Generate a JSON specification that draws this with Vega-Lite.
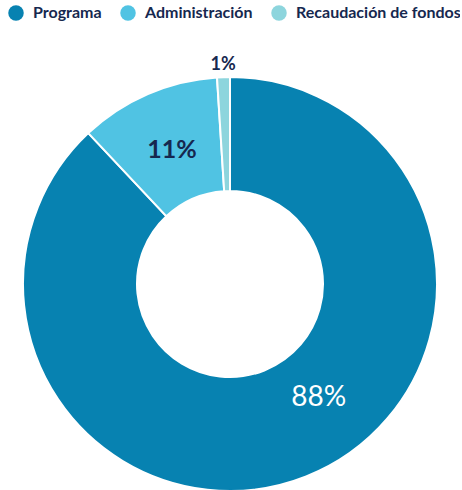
{
  "$schema": "https://vega.github.io/schema/vega-lite/v6.json",
  "width": 460,
  "height": 568,
  "autosize": "none",
  "padding": 0,
  "background": "white",
  "config": {"view": {"stroke": null}, "font": "Lato"},
  "data": {"values": [
    {"cat": "Programa", "value": 88, "order": 1, "label": "88%"},
    {"cat": "Administración", "value": 11, "order": 2, "label": "11%"},
    {"cat": "Recaudación de fondos", "value": 1, "order": 3, "label": "1%"}
  ]},
  "layer": [
    {
      "mark": {"type": "arc", "innerRadius": 93, "outerRadius": 207, "stroke": "white", "strokeWidth": 2},
      "encoding": {
        "theta": {"field": "value", "type": "quantitative", "stack": true},
        "order": {"field": "order", "type": "quantitative"},
        "color": {
          "field": "cat", "type": "nominal",
          "scale": {"domain": ["Programa", "Administración", "Recaudación de fondos"], "range": ["#0782b1", "#50c3e3", "#8dd5dd"]},
          "legend": {
            "title": null, "orient": "none", "legendX": 8, "legendY": 5, "direction": "horizontal",
            "symbolType": "circle", "symbolSize": 240, "symbolStrokeWidth": 0, "symbolOpacity": 1,
            "labelFontSize": 16, "labelFontWeight": "bold", "labelColor": "#16284f", "labelFont": "Lato",
            "columnPadding": 18, "labelOffset": 9, "labelLimit": 300
          }
        }
      }
    },
    {
      "mark": {"type": "text", "radius": 146, "dx": 35, "dy": -22, "fontSize": 28, "color": "white", "font": "Lato"},
      "encoding": {
        "theta": {"field": "value", "type": "quantitative", "stack": true},
        "order": {"field": "order", "type": "quantitative"},
        "text": {"condition": {"test": "datum.cat === 'Programa'", "field": "label"}, "value": ""}
      }
    },
    {
      "mark": {"type": "text", "radius": 146, "fontSize": 25, "fontWeight": "bold", "color": "#16284f", "font": "Lato"},
      "encoding": {
        "theta": {"field": "value", "type": "quantitative", "stack": true},
        "order": {"field": "order", "type": "quantitative"},
        "text": {"condition": {"test": "datum.cat === 'Administración'", "field": "label"}, "value": ""}
      }
    },
    {
      "mark": {"type": "text", "radius": 219, "fontSize": 18, "fontWeight": "bold", "color": "#16284f", "font": "Lato"},
      "encoding": {
        "theta": {"field": "value", "type": "quantitative", "stack": true},
        "order": {"field": "order", "type": "quantitative"},
        "text": {"condition": {"test": "datum.cat === 'Recaudación de fondos'", "field": "label"}, "value": ""}
      }
    }
  ]
}
